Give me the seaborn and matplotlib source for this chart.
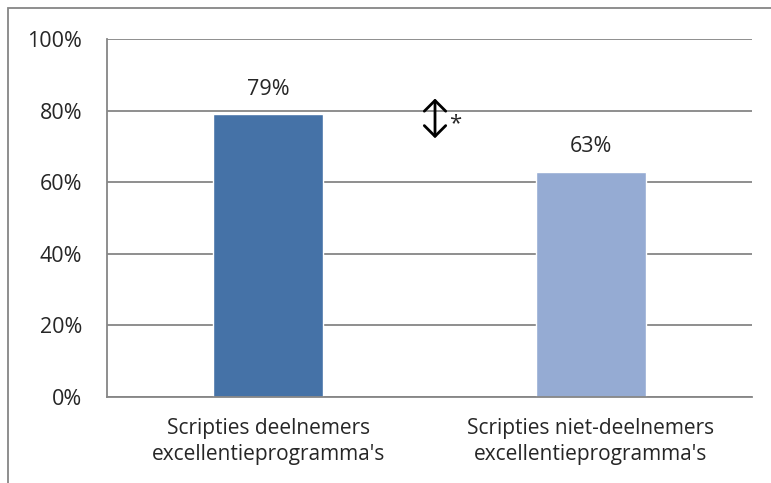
import matplotlib
matplotlib.use("Agg")
import matplotlib.pyplot as plt
import pandas as pd
import seaborn as sns
from matplotlib.patches import Rectangle

# data
categories = ["Scripties deelnemers\nexcellentieprogramma's",
              "Scripties niet-deelnemers\nexcellentieprogramma's"]
values = [79, 63]
bar_colors = ["#4572A7", "#95ABD3"]
y_ticks = [0, 20, 40, 60, 80, 100]
y_tick_labels = ["0%", "20%", "40%", "60%", "80%", "100%"]

df = pd.DataFrame({"groep": categories, "pct": values})

sns.set_style("white")
plt.rcParams["font.family"] = ["Open Sans", "DejaVu Sans"]

fig = plt.figure(figsize=(7.71, 4.83), dpi=100)
ax = fig.add_axes([0.1388, 0.178, 0.8366, 0.741])

sns.barplot(data=df, x="groep", y="pct", hue="groep", palette=bar_colors,
            width=0.34, legend=False, ax=ax, saturation=1)

grid_col = "#868686"
ax.set_ylim(0, 100)
ax.set_xlim(-0.5, 1.5)
ax.set_yticks(y_ticks)
ax.set_yticklabels(y_tick_labels, fontsize=15.5)
ax.yaxis.grid(True, color=grid_col, linewidth=1.3)
ax.set_axisbelow(True)
ax.set_xticks([0, 1])
ax.set_xticklabels(categories, fontsize=15, linespacing=1.3)
ax.set_xticks([-0.5, 0.5, 1.5], minor=True)
ax.tick_params(axis="x", which="major", length=0, pad=15)
ax.tick_params(axis="x", which="minor", length=6, width=1.3, color=grid_col, direction="out")
ax.tick_params(axis="y", length=6, width=1.3, color=grid_col, direction="out", pad=12)
ax.set_xlabel("")
ax.set_ylabel("")

for s in ["top", "right"]:
    ax.spines[s].set_visible(False)
for s in ["left", "bottom"]:
    ax.spines[s].set_color(grid_col)
    ax.spines[s].set_linewidth(1.3)

for i, v in enumerate(values):
    ax.text(i, v + 4.0, f"{v}%", ha="center", va="bottom", fontsize=15.5)

# significance arrow
ax.annotate("", xy=(0.517, 72.3), xytext=(0.517, 83.4),
            arrowprops=dict(arrowstyle="<->,head_length=0.35,head_width=0.35",
                            color="black", lw=2, mutation_scale=22,
                            shrinkA=0, shrinkB=0))
ax.text(0.578, 76.5, "*", ha="center", va="center", fontsize=16)

# outer chart border (cropped)
fig.patches.append(Rectangle((8 / 771, -0.1), 1.2, 1.1 - 8 / 483,
                             transform=fig.transFigure, fill=False,
                             edgecolor=grid_col, linewidth=1.3))

fig.savefig("out.png", dpi=100)
